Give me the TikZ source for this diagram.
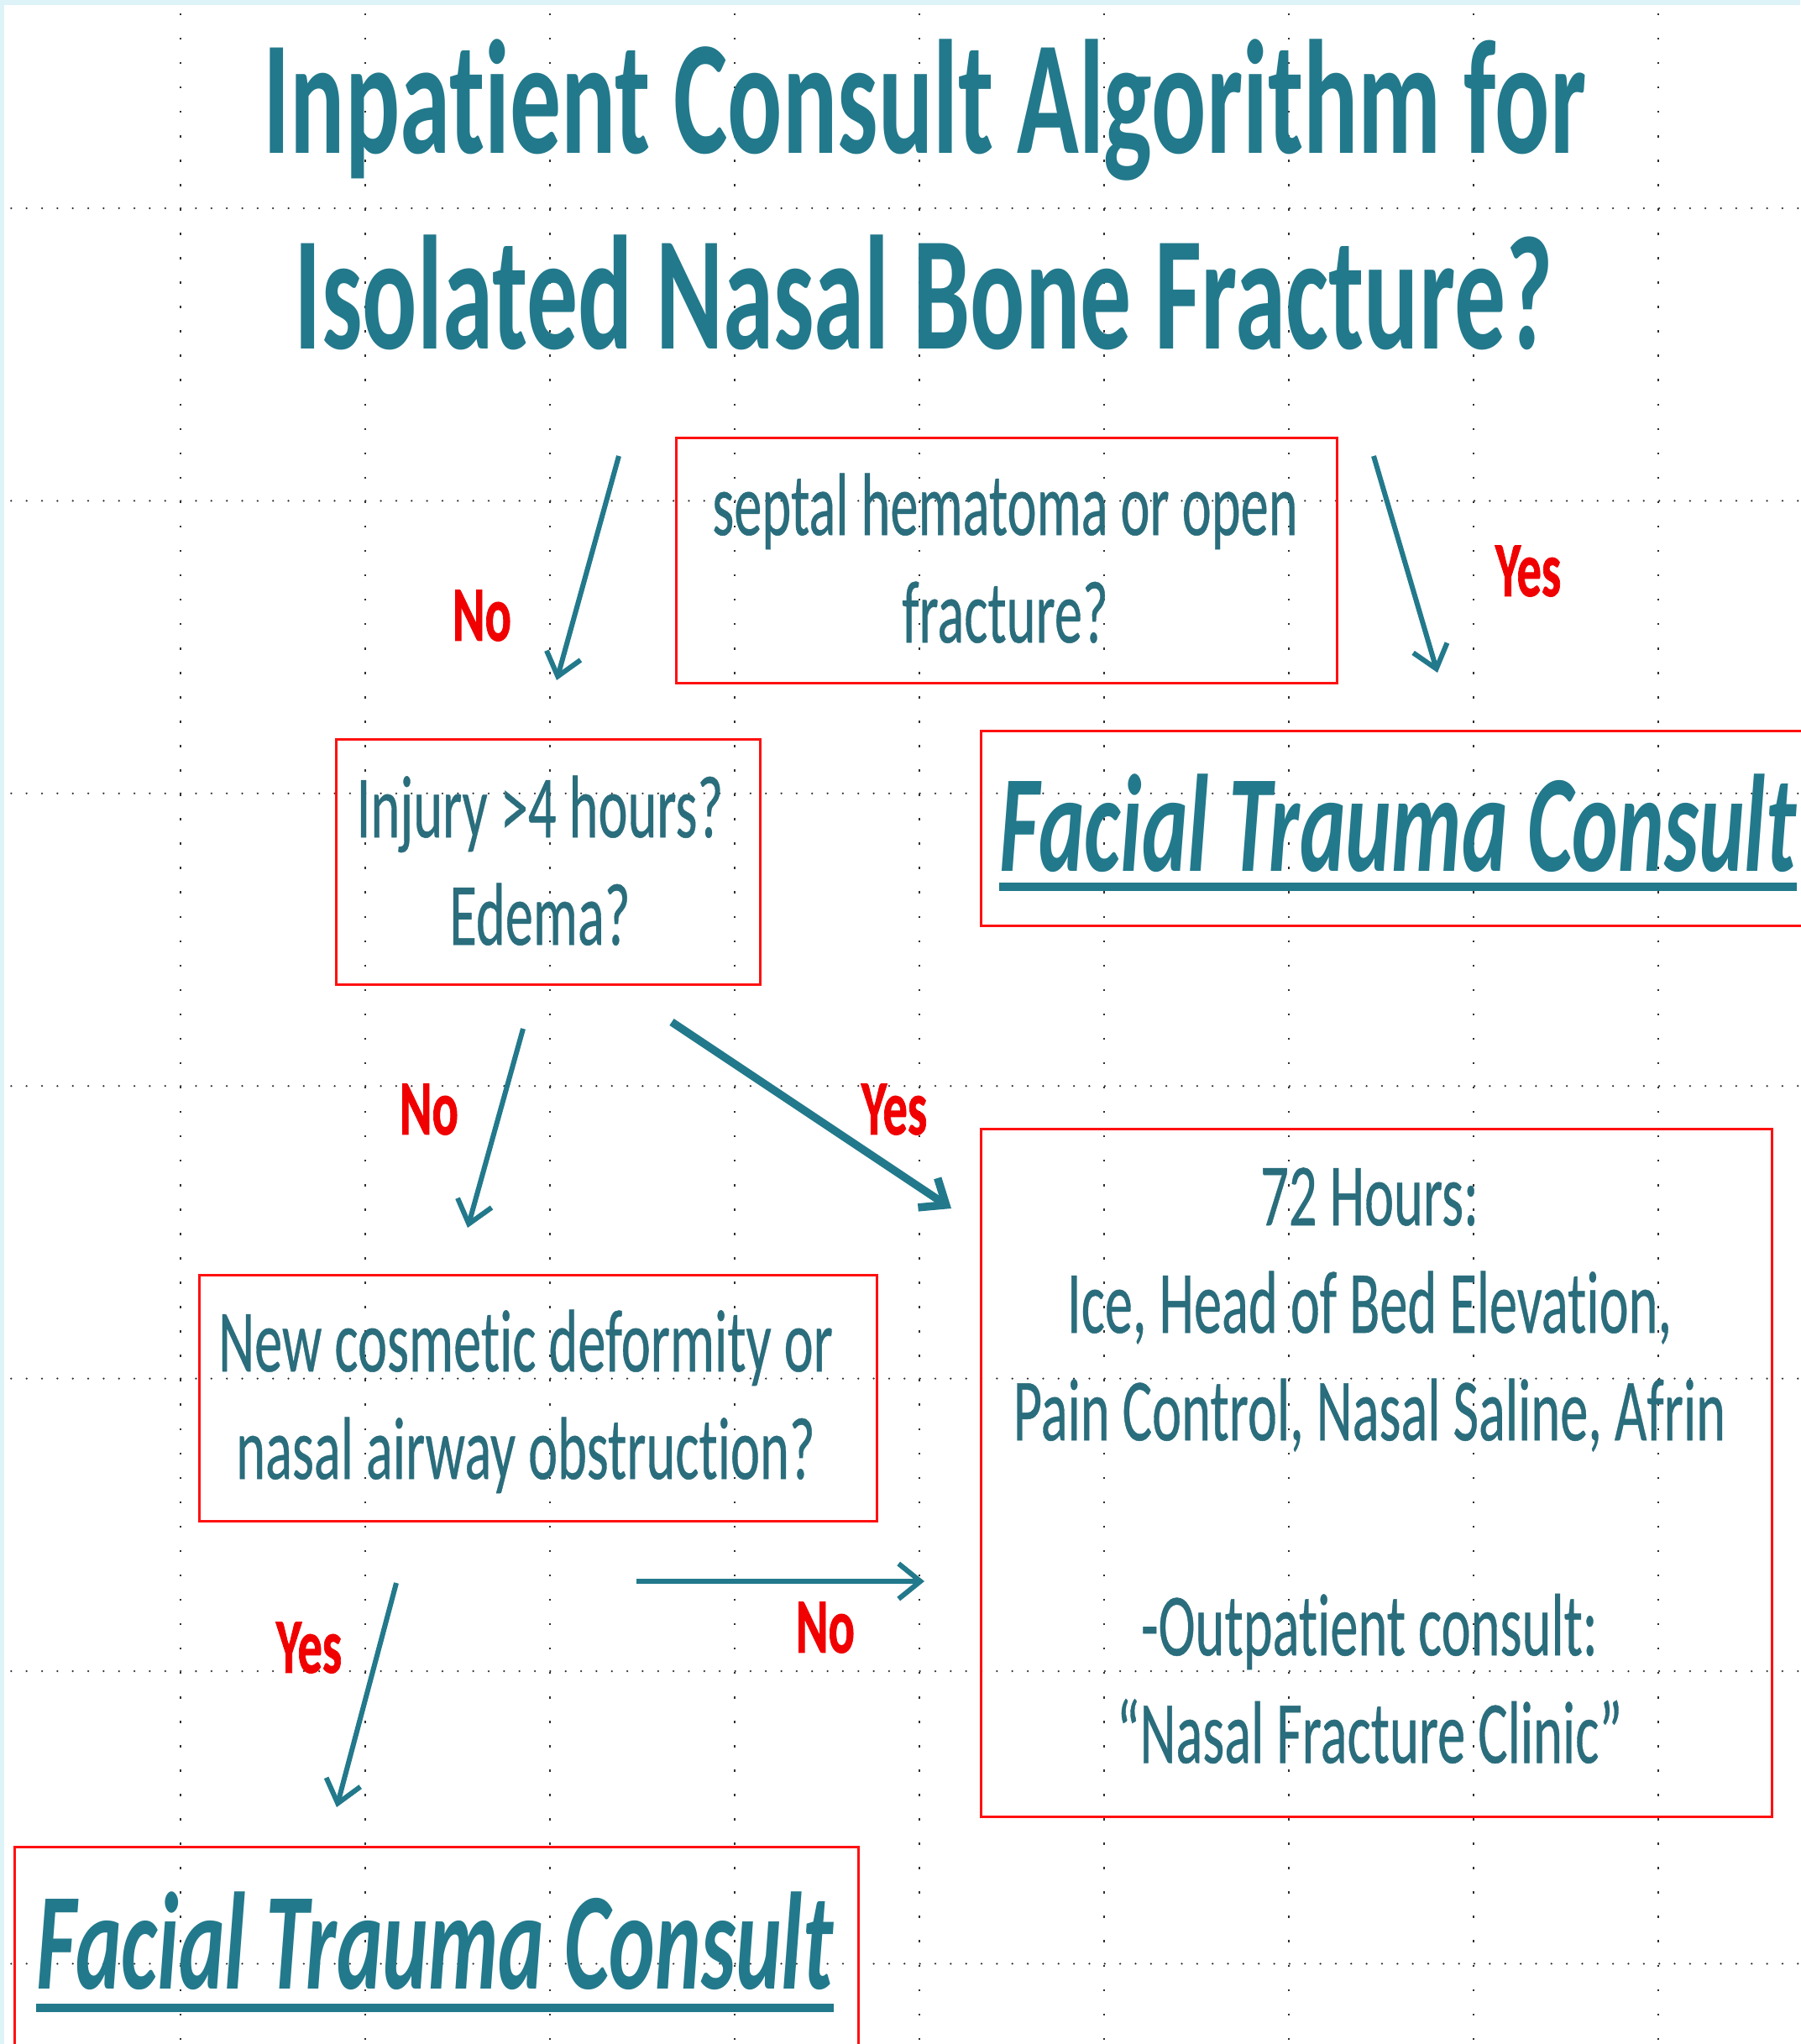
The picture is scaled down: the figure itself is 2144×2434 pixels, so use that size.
\documentclass[tikz,border=0pt]{standalone}
\usepackage{fontspec}
\setmainfont{Carlito}[Ligatures={NoCommon}, RawFeature={-liga;-clig;-calt;-dlig}]
\newfontfamily\bodyfont{Carlito}[Ligatures={NoCommon}, RawFeature={-liga;-clig;-calt;-dlig}, FakeBold=0.5]
\newfontfamily\lblfont{Carlito}[Ligatures={NoCommon}, BoldFeatures={FakeBold=1.2}]
\usetikzlibrary{arrows.meta}
\definecolor{tealA}{HTML}{22798B}
\definecolor{tealB}{HTML}{2A6D7C}
\definecolor{boxred}{HTML}{FF1010}
\definecolor{lblred}{HTML}{F00000}
\definecolor{edgecyan}{HTML}{DDF3F8}
\definecolor{gridc}{HTML}{303030}
\newcommand{\vstretch}[1]{\scalebox{1}[1.59]{#1}}
\begin{document}
\begin{tikzpicture}[x=0.01cm,y=-0.01cm,
  redbox/.style={draw=boxred, line width=0.03cm, inner sep=0pt, anchor=north west},
  bodytext/.style={anchor=base, inner sep=0pt, text=tealB, font=\bodyfont\fontsize{18.9pt}{22.9pt}\selectfont},
  titletext/.style={anchor=base, inner sep=0pt, text=tealA, font=\bfseries\fontsize{34.6pt}{40pt}\selectfont},
  ftctext/.style={anchor=base, inner sep=0pt, text=tealA, font=\bfseries\itshape\fontsize{29.5pt}{35pt}\selectfont},
  ftcline/.style={draw=tealA, line width=0.1cm},
  lbl/.style={inner sep=0pt, text=lblred, font=\lblfont\bfseries\fontsize{16.6pt}{20pt}\selectfont},
  arr/.style={draw=tealA, line width=0.06cm, -{Straight Barb[length=0.26cm,width=0.42cm]}},
  arrthick/.style={arr, line width=0.095cm},
  gridh/.style={draw=gridc, line width=0.025cm, line cap=round, dash pattern=on 0pt off 0.18333cm},
  gridv/.style={draw=gridc, line width=0.022cm, dash pattern=on 0.025cm off 0.2653cm}
]
\useasboundingbox (0,0) rectangle (2144,2434);
\fill[white] (0,0) rectangle (2144,2434);
\fill[edgecyan] (0,0) rectangle (2144,6);
\fill[edgecyan] (0,0) rectangle (5,2434);

% grid
\foreach \gx in {215,435,...,1975} \draw[gridv] (\gx,-100.4) -- (\gx,2500);
\foreach \k in {0,...,6} {
  \pgfmathsetmacro{\gy}{248+348.4*\k}
  \draw[gridh] (-5,\gy) -- (2200,\gy);
}

% title
\node[titletext] (title1) at (1101,183) {\vstretch{Inpatient Consult Algorithm for}};
\node[titletext] (title2) at (1100,416) {\vstretch{Isolated Nasal Bone Fracture?}};

% boxes
\node[redbox, minimum width=7.87cm, minimum height=2.92cm] (b1) at (804,520) {};
\node[redbox, minimum width=10cm, minimum height=2.32cm] (b2) at (1167,869) {};
\node[redbox, minimum width=5.05cm, minimum height=2.92cm] (b3) at (399,879) {};
\node[redbox, minimum width=8.07cm, minimum height=2.93cm] (b4) at (236,1517) {};
\node[redbox, minimum width=9.41cm, minimum height=8.18cm] (b5) at (1167,1343) {};
\node[redbox, minimum width=10.04cm, minimum height=3cm] (b6) at (16,2198) {};

% box texts
\node[bodytext] (t1) at (1197,637) {\vstretch{\begin{tabular}[t]{@{}c@{}}septal hematoma or open\\ fracture?\end{tabular}}};
\node[ftctext] (ftc1) at (1665,1037) {\vstretch{Facial Trauma Consult}};
\draw[ftcline] ([yshift=-0.19cm]ftc1.base west) -- ([yshift=-0.19cm]ftc1.base east);
\node[bodytext] (t3) at (643,997) {\vstretch{\begin{tabular}[t]{@{}c@{}}Injury >4 hours?\\ Edema?\end{tabular}}};
\node[bodytext] (t4) at (626,1633) {\vstretch{\begin{tabular}[t]{@{}c@{}}New cosmetic deformity or\\ nasal airway obstruction?\end{tabular}}};
\node[bodytext] (t5) at (1631,1459) {\vstretch{\begin{tabular}[t]{@{}c@{}}72 Hours:\\ Ice, Head of Bed Elevation,\\ Pain Control, Nasal Saline, Afrin\\ \\ -Outpatient consult:\\ “Nasal Fracture Clinic”\end{tabular}}};
\node[ftctext] (ftc2) at (518,2368) {\vstretch{Facial Trauma Consult}};
\draw[ftcline] ([yshift=-0.23cm]ftc2.base west) -- ([yshift=-0.23cm]ftc2.base east);

% labels
\node[lbl] (no1) at (574,733) {\vstretch{No}};
\node[lbl] (yes1) at (1820,680) {\vstretch{Yes}};
\node[lbl] (no2) at (511,1321) {\vstretch{No}};
\node[lbl] (yes2) at (1065,1321) {\vstretch{Yes}};
\node[lbl] (yes3) at (368,1962) {\vstretch{Yes}};
\node[lbl] (no3) at (983,1938) {\vstretch{No}};

% arrows
\coordinate (a1s) at (737,543);  \coordinate (a1e) at (663,810);
\coordinate (a2s) at (1636,543); \coordinate (a2e) at (1712,801);
\coordinate (a3s) at (623,1225); \coordinate (a3e) at (557,1462);
\coordinate (a4s) at (800,1217); \coordinate (a4e) at (1133,1439);
\coordinate (a5s) at (472,1885); \coordinate (a5e) at (401,2152);
\coordinate (a6s) at (758,1883); \coordinate (a6e) at (1101,1883);
\draw[arr] (a1s) -- (a1e);
\draw[arr] (a2s) -- (a2e);
\draw[arr] (a3s) -- (a3e);
\draw[arrthick] (a4s) -- (a4e);
\draw[arr] (a5s) -- (a5e);
\draw[arr] (a6s) -- (a6e);
\end{tikzpicture}
\end{document}
